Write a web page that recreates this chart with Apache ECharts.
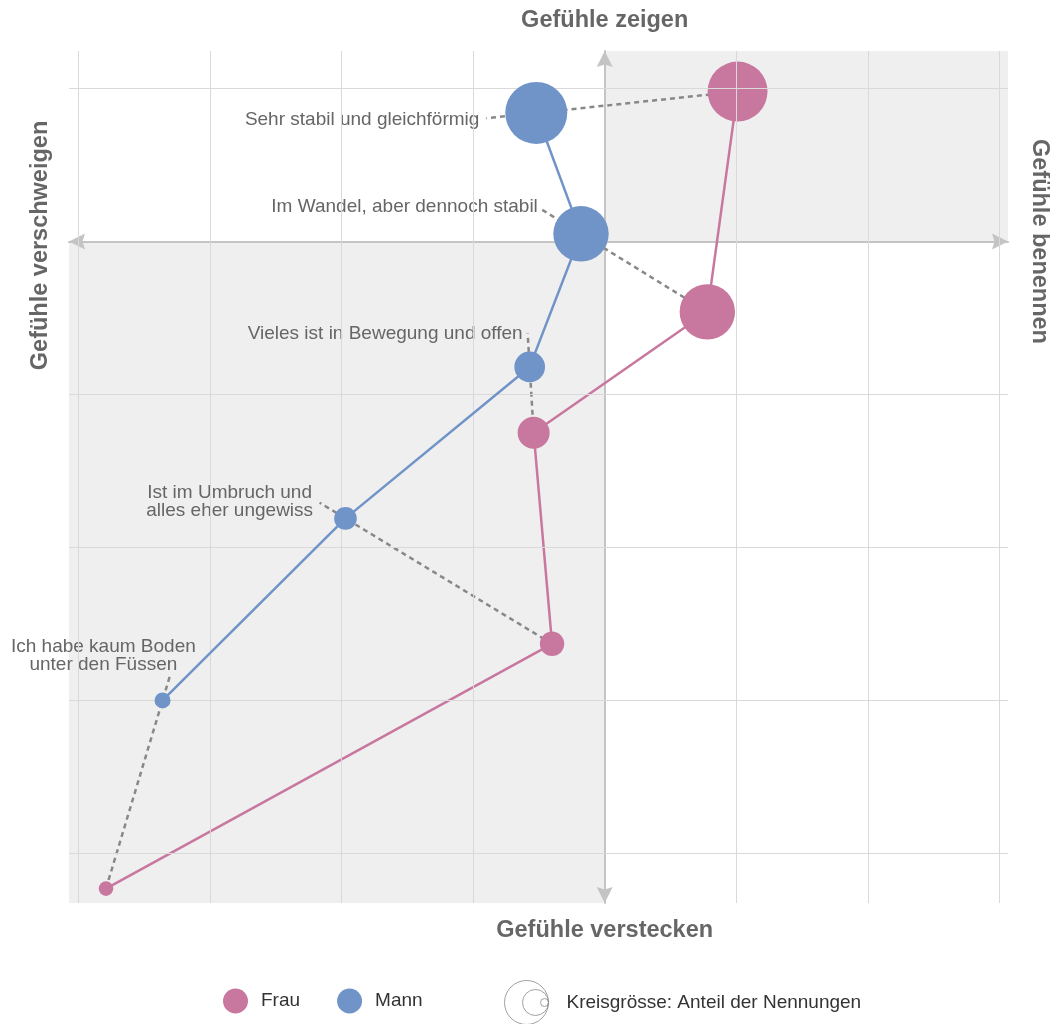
<!DOCTYPE html>
<html><head><meta charset="utf-8">
<script src="https://cdn.jsdelivr.net/npm/echarts@6/dist/echarts.min.js"></script>
<style>html,body{margin:0;padding:0;background:#fff}#c{width:1050px;height:1024px}</style>
</head><body><div id="c"></div>
<script>
// ---- data ----
const categories = [
  'Sehr stabil und gleichförmig',
  'Im Wandel, aber dennoch stabil',
  'Vieles ist in Bewegung und offen',
  'Ist im Umbruch und\nalles eher ungewiss',
  'Ich habe kaum Boden\nunter den Füssen'
];
const frauX = [1.01, 0.78, -0.54, -0.40, -3.79];
const frauY = [0.98, -0.46, -1.25, -2.63, -4.23];
const frauShare = [42, 36, 12, 7, 2.5];
const mannX = [-0.52, -0.18, -0.57, -1.97, -3.36];
const mannY = [0.84, 0.05, -0.82, -1.81, -3.00];
const mannShare = [45, 36, 11, 6, 3];
const xGridValues = [-4, -3, -2, -1, 1, 2, 3];
const yGridValues = [-4, -3, -2, -1, 1];
const xRange = [-4.071, 3.065];
const yRange = [-4.324, 1.245];
const titleTop = 'Gefühle zeigen';
const titleBottom = 'Gefühle verstecken';
const titleLeft = 'Gefühle verschweigen';
const titleRight = 'Gefühle benennen';
const seriesNames = ['Frau', 'Mann'];
const sizeLegendText = 'Kreisgrösse: Anteil der Nennungen';

// ---- layout / style ----
const PINK = '#C8779E', BLUE = '#7094C8';
const FONT = 'Liberation Sans, Arial, Helvetica, sans-serif';
const sizeK = 9.24;
// leader extension factor beyond the Mann point, and label placement
const leaderExt = [0.248, 0.31, 0.51, 0.125, 0.138];
const labelLayout = [
  {align: 'right', distance: 7, offset: [0, 1]},
  {align: 'right', distance: 4, offset: [0, -3]},
  {align: 'right', distance: 5, offset: [0, 0]},
  {align: 'center', distance: 0, offset: [-90, -1]},
  {align: 'center', distance: 0, offset: [-67, -18.5]}
];

const chart = echarts.init(document.getElementById('c'), null, {renderer: 'canvas'});

const sizeFn = v => sizeK * Math.sqrt(v[2]);
const frauData = frauX.map((x, i) => [x, frauY[i], frauShare[i]]);
const mannData = mannX.map((x, i) => [x, mannY[i], mannShare[i]]);

const connectorSeries = categories.map((name, i) => {
  const fx = frauX[i], fy = frauY[i], mx = mannX[i], my = mannY[i];
  const k = leaderExt[i];
  const ax = mx + k * (mx - fx), ay = my + k * (my - fy);
  const L = labelLayout[i];
  return {
    type: 'line', z: 3, silent: true, animation: false,
    symbol: 'circle', symbolSize: 0, showSymbol: true,
    lineStyle: {color: '#888', width: 2.5, type: [5, 4]},
    itemStyle: {color: '#888'},
    data: [
      [fx, fy],
      [mx, my],
      {value: [ax, ay], label: {
        show: true, formatter: name, position: 'left',
        distance: L.distance, align: L.align, verticalAlign: 'middle', offset: L.offset,
        color: '#666', fontSize: 19, lineHeight: 18.5, fontFamily: FONT
      }}
    ]
  };
});

const arrowPath = 'path://M8,0 L16,16 L8,13.5 L0,16 Z';
const option = {
  animation: false,
  grid: {left: 69, right: 42, top: 51, bottom: 121, containLabel: false},
  xAxis: {
    type: 'value', min: xRange[0], max: xRange[1], z: 2,
    axisLine: {show: true, onZero: true, lineStyle: {color: '#c4c4c4', width: 2},
      symbol: [arrowPath, arrowPath], symbolSize: [16, 16], symbolOffset: [8, -8]},
    axisTick: {show: false}, axisLabel: {show: false}, splitLine: {show: false}
  },
  yAxis: {
    type: 'value', min: yRange[0], max: yRange[1], z: 2,
    axisLine: {show: true, onZero: true, lineStyle: {color: '#c4c4c4', width: 2},
      symbol: [arrowPath, arrowPath], symbolSize: [16, 16], symbolOffset: [8, -8]},
    axisTick: {show: false}, axisLabel: {show: false}, splitLine: {show: false}
  },
  legend: [
    {
      left: 218, top: 983.5, itemWidth: 25, itemHeight: 25, itemGap: 37,
      selectedMode: false, icon: 'circle',
      textStyle: {color: '#333', fontSize: 19, fontFamily: FONT, padding: [0, 0, 0, 8]},
      data: seriesNames
    },
    {
      left: 499, top: 975, itemWidth: 44, itemHeight: 44,
      selectedMode: false,
      textStyle: {color: '#333', fontSize: 19, fontFamily: FONT, padding: [0, 0, 0, 13]},
      data: [{
        name: sizeLegendText,
        icon: 'path://M0,22 A22,22 0 1,0 44,22 A22,22 0 1,0 0,22 Z M18,22 A13,13 0 1,0 44,22 A13,13 0 1,0 18,22 Z M36,22 A4,4 0 1,0 44,22 A4,4 0 1,0 36,22 Z',
        itemStyle: {color: 'rgba(0,0,0,0)', borderColor: '#8a8a8a', borderWidth: 1}
      }]
    }
  ],
  series: [
    {
      type: 'scatter', name: '_bg', z: 0, silent: true, data: [],
      markArea: {
        silent: true, itemStyle: {color: '#efefef'},
        data: [
          [{coord: [xRange[0], yRange[0]]}, {coord: [0, 0]}],
          [{coord: [0, 0]}, {coord: [xRange[1], yRange[1]]}]
        ]
      }
    },
    {
      type: 'scatter', name: '_grid', z: 1, silent: true, data: [],
      markLine: {
        silent: true, symbol: ['none', 'none'], label: {show: false},
        lineStyle: {color: '#d9d9d9', width: 1, type: 'solid'},
        data: xGridValues.map(v => ({xAxis: v})).concat(yGridValues.map(v => ({yAxis: v})))
      }
    },
    ...connectorSeries,
    {
      type: 'line', name: seriesNames[0], z: 4, data: frauData,
      symbol: 'circle', symbolSize: sizeFn, showSymbol: true,
      itemStyle: {color: PINK, opacity: 1}, lineStyle: {color: PINK, width: 2.5}
    },
    {
      type: 'line', name: seriesNames[1], z: 5, data: mannData,
      symbol: 'circle', symbolSize: sizeFn, showSymbol: true,
      itemStyle: {color: BLUE, opacity: 1}, lineStyle: {color: BLUE, width: 2.5}
    },
    {type: 'scatter', name: sizeLegendText, data: [], itemStyle: {color: '#8a8a8a'}}
  ]
};
chart.setOption(option);

const p0 = chart.convertToPixel({gridIndex: 0}, [0, 0]);
const titleFont = 'bold 23.5px ' + FONT;
const mkTitle = (text, x, y, rot) => ({
  type: 'text', x: x, y: y, rotation: rot, silent: true,
  style: {text: text, font: titleFont, fill: '#666', align: 'center', verticalAlign: 'middle'}
});
chart.setOption({
  graphic: [
    mkTitle(titleTop, p0[0], 21, 0),
    mkTitle(titleBottom, p0[0], 931, 0),
    mkTitle(titleLeft, 41, p0[1] + 4, Math.PI / 2),
    mkTitle(titleRight, 1039, p0[1], -Math.PI / 2)
  ]
});
</script>
</body></html>
